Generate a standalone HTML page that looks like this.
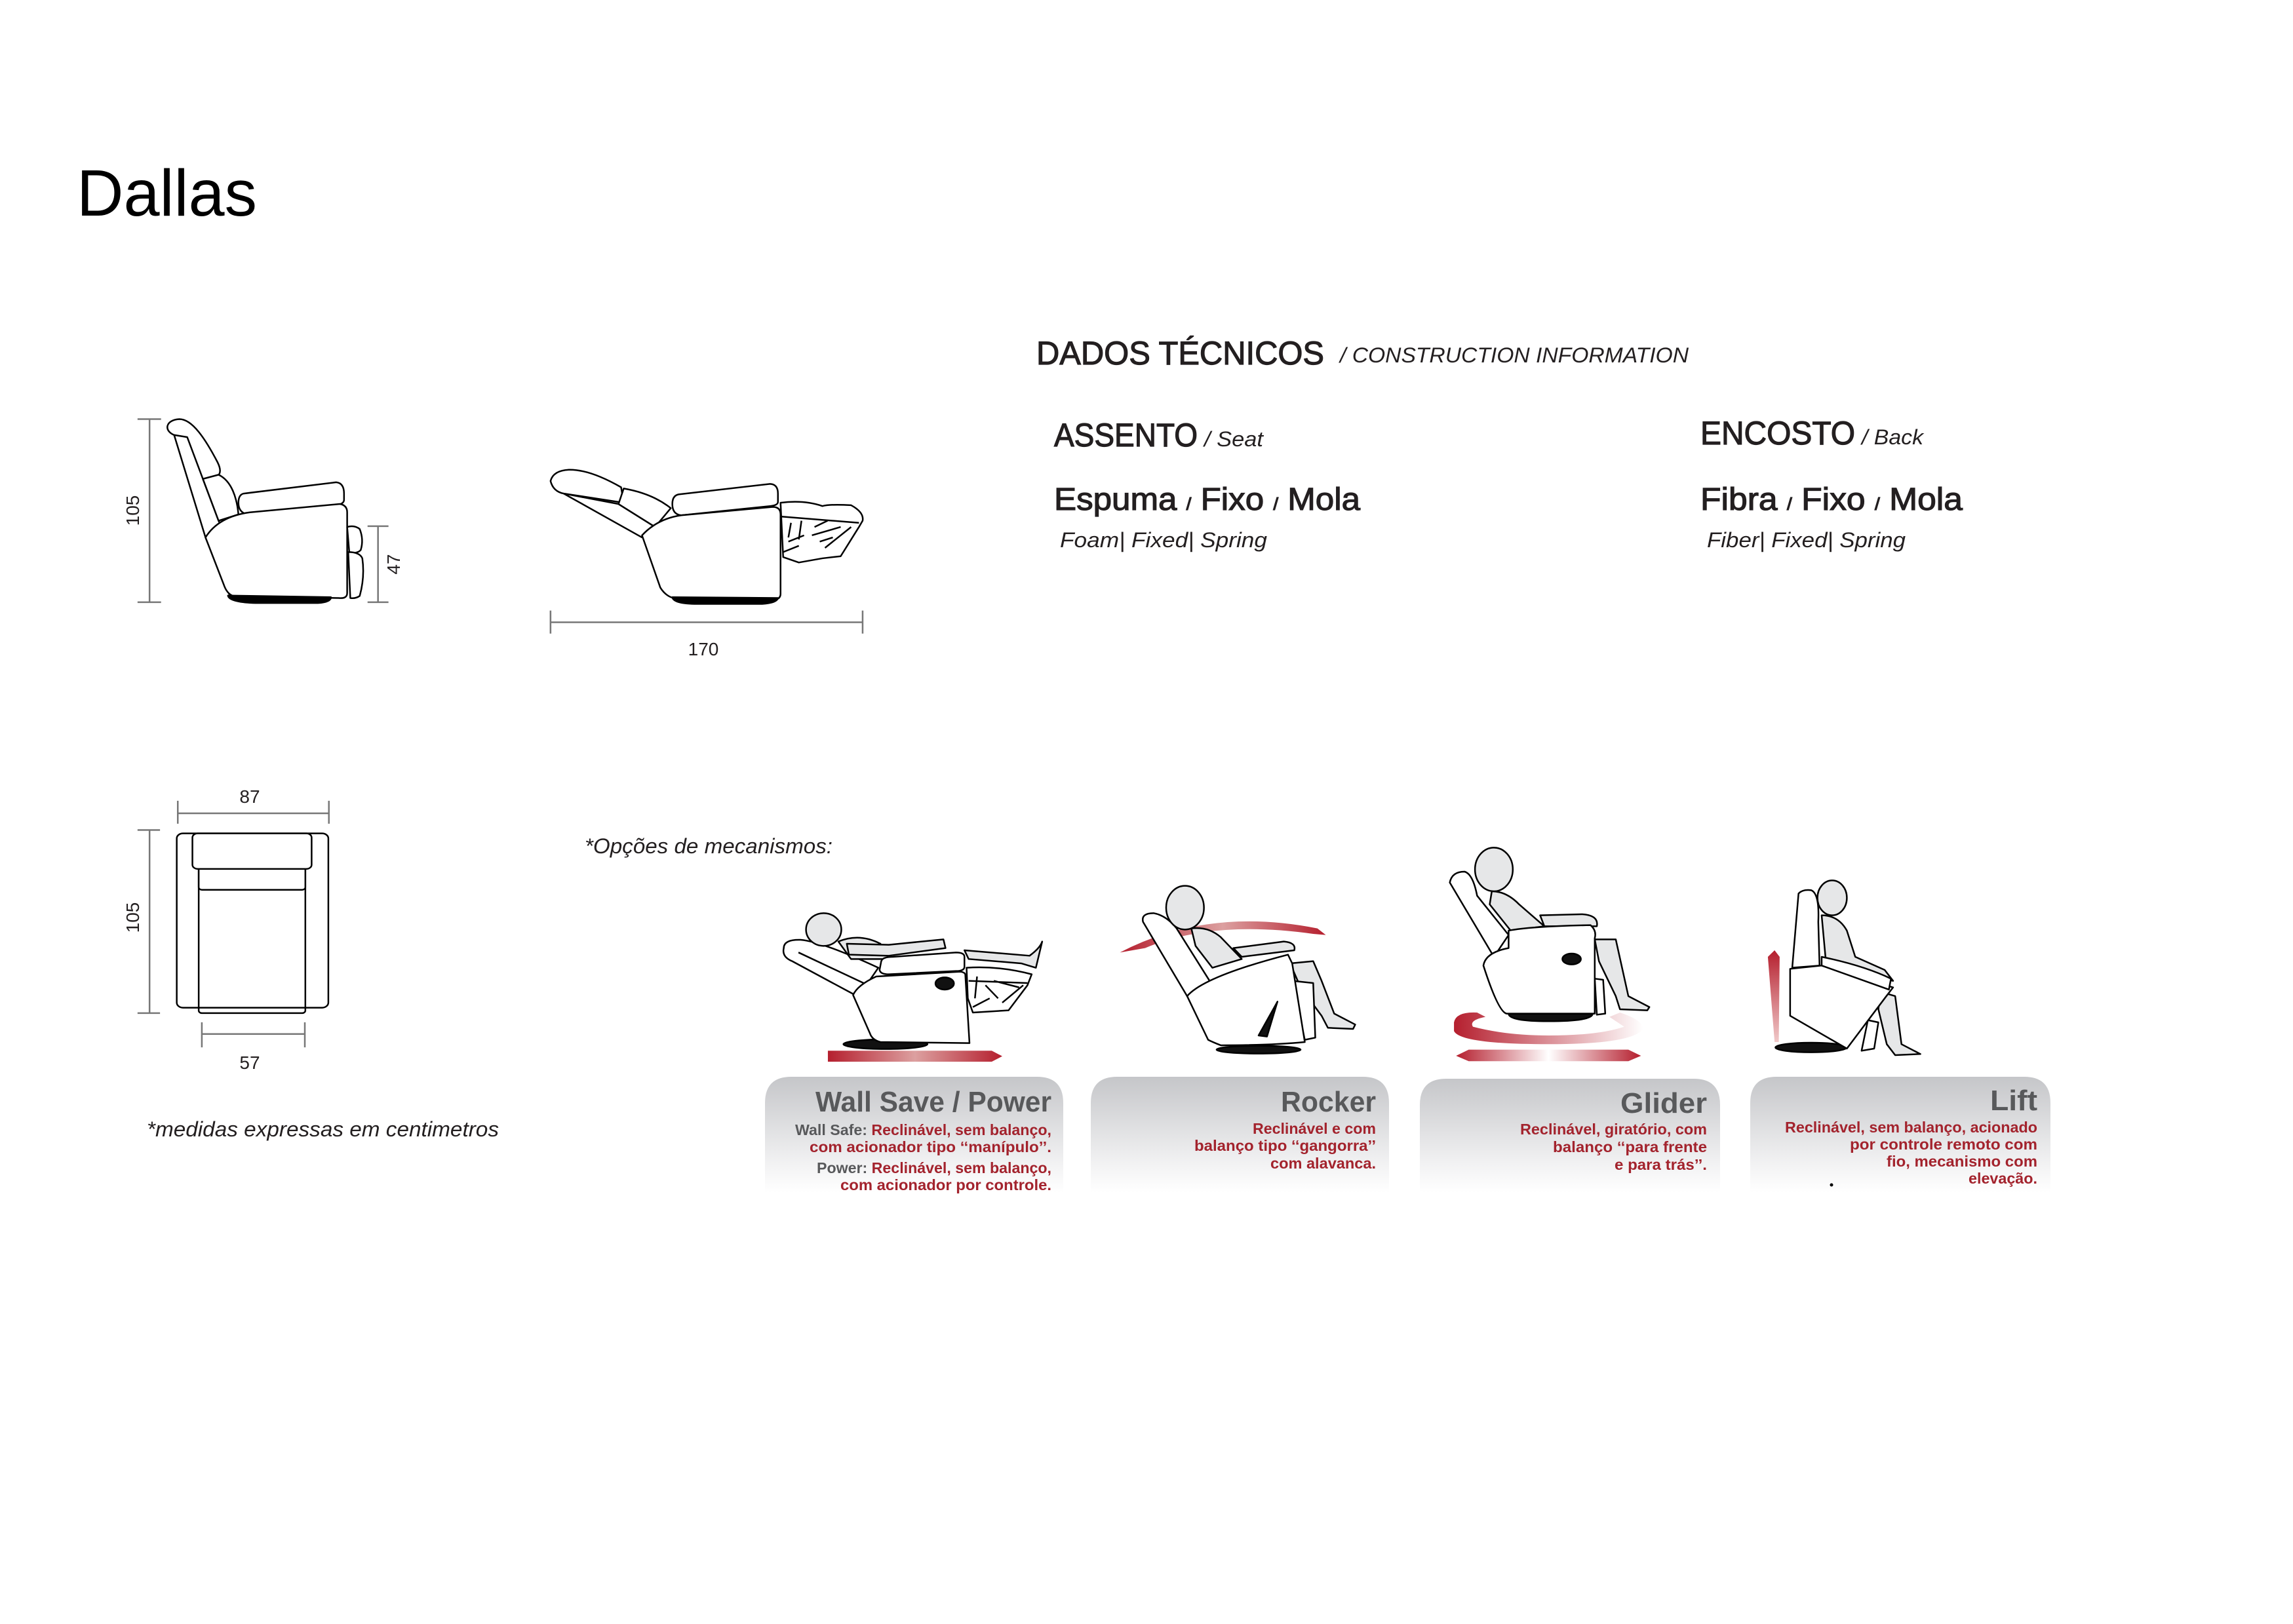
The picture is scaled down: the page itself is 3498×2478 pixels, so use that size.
<!DOCTYPE html>
<html><head><meta charset="utf-8"><style>
html,body{margin:0;padding:0;background:#fff}
svg{display:block}
text{font-family:"Liberation Sans",sans-serif}
</style></head><body>
<svg width="3498" height="2478" viewBox="0 0 3498 2478" xmlns="http://www.w3.org/2000/svg">
<defs>
<linearGradient id="box" x1="0" y1="0" x2="0" y2="1"><stop offset="0" stop-color="#c5c6c9"/><stop offset="0.75" stop-color="#f2f2f3"/><stop offset="1" stop-color="#ffffff"/></linearGradient>
<linearGradient id="rh" x1="0" y1="0" x2="1" y2="0"><stop offset="0" stop-color="#b51f2e"/><stop offset="0.5" stop-color="#dca0a0"/><stop offset="1" stop-color="#b51f2e"/></linearGradient>
<linearGradient id="rw" x1="0" y1="0" x2="1" y2="0"><stop offset="0" stop-color="#b51f2e"/><stop offset="0.5" stop-color="#ffffff"/><stop offset="1" stop-color="#b51f2e"/></linearGradient>
<linearGradient id="rf" x1="0" y1="0" x2="1" y2="0"><stop offset="0" stop-color="#b51f2e"/><stop offset="1" stop-color="#ffffff"/></linearGradient>
<linearGradient id="rv" x1="0" y1="0" x2="0" y2="1"><stop offset="0" stop-color="#b51f2e"/><stop offset="1" stop-color="#f0c8c8"/></linearGradient>
</defs>

<text x="117" y="329" font-size="100" textLength="275" lengthAdjust="spacingAndGlyphs">Dallas</text>

<!-- Technical data -->
<g fill="#231f20" stroke="#231f20">
<text x="1581" y="556" font-size="50" stroke-width="1.2" textLength="439" lengthAdjust="spacingAndGlyphs">DADOS TÉCNICOS</text>
<text x="2044" y="553" font-size="32" stroke-width="0" font-style="italic" textLength="532" lengthAdjust="spacingAndGlyphs">/ CONSTRUCTION INFORMATION</text>
<text x="1608" y="681" font-size="50" stroke-width="1.2" textLength="219" lengthAdjust="spacingAndGlyphs">ASSENTO</text>
<text x="1837" y="681" font-size="32" stroke-width="0" font-style="italic" textLength="90" lengthAdjust="spacingAndGlyphs">/ Seat</text>
<text x="2594" y="678" font-size="50" stroke-width="1.2" textLength="236" lengthAdjust="spacingAndGlyphs">ENCOSTO</text>
<text x="2840" y="678" font-size="32" stroke-width="0" font-style="italic" textLength="94" lengthAdjust="spacingAndGlyphs">/ Back</text>
<text x="1608" y="778" font-size="48" stroke-width="1.2" textLength="467" lengthAdjust="spacingAndGlyphs">Espuma <tspan font-size="26">/</tspan> Fixo <tspan font-size="26">/</tspan> Mola</text>
<text x="2594" y="778" font-size="48" stroke-width="1.2" textLength="400" lengthAdjust="spacingAndGlyphs">Fibra <tspan font-size="26">/</tspan> Fixo <tspan font-size="26">/</tspan> Mola</text>
<text x="1617" y="835" font-size="32" stroke-width="0" font-style="italic" textLength="316" lengthAdjust="spacingAndGlyphs">Foam| Fixed| Spring</text>
<text x="2604" y="835" font-size="32" stroke-width="0" font-style="italic" textLength="303" lengthAdjust="spacingAndGlyphs">Fiber| Fixed| Spring</text>
</g>

<!-- Left drawings in zoom coords -->
<g transform="translate(150 600) scale(0.7975 0.6378)" fill="#fff" stroke="#000" stroke-width="2.5" stroke-linejoin="round">
 <path d="M98 62 V500 M75 62 H120 M75 500 H120" stroke="#777" vector-effect="non-scaling-stroke" fill="none"/>
 <path d="M535 318 V500 M515 318 H555 M515 500 H555" stroke="#777" vector-effect="non-scaling-stroke" fill="none"/>
 <path d="M145 100 C125 90 128 64 155 62 C180 62 205 110 228 165 C238 190 232 200 215 205 L200 205 Z" vector-effect="non-scaling-stroke"/>
 <path d="M145 100 L205 345 L250 480 L300 490 L230 305 L170 105 Z" vector-effect="non-scaling-stroke"/>
 <path d="M200 205 L230 195 C255 210 265 250 268 290 L230 305 Z" vector-effect="non-scaling-stroke"/>
 <path d="M278 240 L455 213 Q470 215 470 240 L470 255 Q470 265 455 268 L285 290 Q268 285 268 262 Q268 243 278 240 Z" vector-effect="non-scaling-stroke"/>
 <path d="M205 345 Q230 295 290 285 L462 265 Q476 268 476 285 L476 478 Q476 492 460 490 L258 485 Q246 480 240 458 Z" vector-effect="non-scaling-stroke"/>
 <path d="M248 484 Q250 500 300 502 L420 502 Q445 500 445 488 Z" fill="#000" vector-effect="non-scaling-stroke"/>
 <path d="M476 320 Q490 315 500 325 Q508 350 502 375 Q495 385 480 380 Z" vector-effect="non-scaling-stroke"/>
 <path d="M478 380 Q500 380 505 395 Q510 440 500 485 Q492 492 482 490 Z" vector-effect="non-scaling-stroke"/>
 <path d="M865 210 Q870 185 900 183 Q940 182 1000 225 L1005 262 L890 240 Q870 235 865 210 Z" vector-effect="non-scaling-stroke"/>
 <path d="M890 240 L1040 345 L1065 320 L995 265 Z" vector-effect="non-scaling-stroke"/>
 <path d="M1005 228 Q1060 240 1095 275 L1065 320 L995 265 Z" vector-effect="non-scaling-stroke"/>
 <path d="M1110 242 L1285 217 Q1300 218 1300 240 L1300 260 Q1300 268 1285 270 L1115 292 Q1098 290 1098 265 Q1098 245 1110 242 Z" vector-effect="non-scaling-stroke"/>
 <path d="M1040 340 Q1070 300 1115 292 L1290 272 Q1305 272 1305 290 L1305 480 Q1305 494 1290 494 L1100 490 Q1085 485 1075 465 Z" vector-effect="non-scaling-stroke"/>
 <path d="M1098 488 Q1100 503 1140 504 L1270 504 Q1298 502 1300 490 Z" fill="#000" vector-effect="non-scaling-stroke"/>
 <path d="M1305 262 Q1350 255 1385 270 Q1400 265 1440 268 Q1465 285 1462 305 L1455 320 L1420 390 L1385 395 L1340 405 L1310 392 Z" vector-effect="non-scaling-stroke"/>
 <path d="M1305 295 L1455 310 M1325 310 L1320 345 M1345 305 L1340 350 M1370 320 L1395 305 M1365 340 L1420 320 M1390 370 L1440 320 M1310 380 L1340 365 M1320 355 L1350 340 M1380 355 L1405 345" fill="none" vector-effect="non-scaling-stroke"/>
 <path d="M865 548 H1462 M865 520 V575 M1462 520 V575" stroke="#777" fill="none" vector-effect="non-scaling-stroke"/>
 <path d="M152 1005 H441 M152 975 V1030 M441 975 V1030" stroke="#777" fill="none" vector-effect="non-scaling-stroke"/>
 <path d="M98 1045 V1483 M75 1045 H118 M75 1483 H118" stroke="#777" fill="none" vector-effect="non-scaling-stroke"/>
 <path d="M198 1533 H395 M198 1505 V1565 M395 1505 V1565" stroke="#777" fill="none" vector-effect="non-scaling-stroke"/>
 <rect x="192" y="1460" width="204" height="23" rx="6" vector-effect="non-scaling-stroke"/>
 <rect x="150" y="1053" width="290" height="417" rx="12" vector-effect="non-scaling-stroke"/>
 <path d="M192 1060 V1470 M396 1060 V1470" fill="none" vector-effect="non-scaling-stroke"/>
 <rect x="192" y="1130" width="204" height="58" rx="6" vector-effect="non-scaling-stroke"/>
 <rect x="180" y="1053" width="228" height="85" rx="10" vector-effect="non-scaling-stroke"/>
</g>
<g font-size="28" fill="#231f20">
 <text transform="translate(212 779) rotate(-90)" text-anchor="middle">105</text>
 <text transform="translate(610 861) rotate(-90)" text-anchor="middle">47</text>
 <text x="1073" y="1000" text-anchor="middle">170</text>
 <text x="381" y="1225" text-anchor="middle">87</text>
 <text transform="translate(212 1400) rotate(-90)" text-anchor="middle">105</text>
 <text x="381" y="1631" text-anchor="middle">57</text>
</g>
<text x="892" y="1302" font-size="32" font-style="italic" textLength="378" lengthAdjust="spacingAndGlyphs" fill="#231f20">*Opções de mecanismos:</text>
<text x="224" y="1734" font-size="32" font-style="italic" textLength="537" lengthAdjust="spacingAndGlyphs" fill="#231f20">*medidas expressas em centimetros</text>

<!-- Mechanism illustrations 1 & 2 -->
<g transform="translate(1170 1290) scale(0.641 0.3333)" stroke="#000" stroke-width="2.5" stroke-linejoin="round">
 <polygon points="145,940 535,940 560,965 535,990 145,990" fill="url(#rh)" stroke="none"/>
 <ellipse cx="282" cy="910" rx="100" ry="22" fill="#111" vector-effect="non-scaling-stroke"/>
 <path d="M470 480 L625 505 Q650 470 655 440 L640 560 L605 540 L480 520 Z" fill="#e6e7e8" vector-effect="non-scaling-stroke"/>
 <path d="M475 560 Q550 550 630 590 L620 640 L575 755 L490 765 L478 700 Z" fill="#fff" vector-effect="non-scaling-stroke"/>
 <path d="M480 620 L620 630 M500 600 L495 700 M520 640 L550 700 M540 620 L600 650 M560 720 L610 640 M490 740 L530 700" fill="none" vector-effect="non-scaling-stroke"/>
 <path d="M40 470 Q40 430 80 432 Q130 440 265 560 L240 630 L205 680 L60 530 Q35 510 40 470 Z" fill="#fff" vector-effect="non-scaling-stroke"/>
 <path d="M75 490 L232 632" fill="none" vector-effect="non-scaling-stroke"/>
 <ellipse cx="135" cy="385" rx="42" ry="75" fill="#e6e7e8" vector-effect="non-scaling-stroke"/>
 <path d="M170 440 Q220 400 270 450 L300 520 L200 520 Z" fill="#e6e7e8" vector-effect="non-scaling-stroke"/>
 <path d="M190 450 L290 455 L420 430 L425 470 L290 505 L195 500 Z" fill="#e6e7e8" vector-effect="non-scaling-stroke"/>
 <path d="M205 685 Q215 640 260 600 L460 578 Q470 580 472 590 L482 905 L270 900 Q250 890 245 860 Z" fill="#fff" vector-effect="non-scaling-stroke"/>
 <path d="M272 530 Q275 510 300 510 L450 490 Q470 490 470 510 L470 555 Q470 575 450 575 L290 590 Q270 590 268 570 Z" fill="#fff" vector-effect="non-scaling-stroke"/>
 <ellipse cx="423" cy="632" rx="22" ry="28" fill="#111" vector-effect="non-scaling-stroke"/>
 <path d="M840 490 Q1050 280 1310 380 L1330 410 L1300 405 Q1060 340 900 470 Z" fill="url(#rh)" stroke="none"/>
 <ellipse cx="1170" cy="935" rx="100" ry="18" fill="#111" vector-effect="non-scaling-stroke"/>
 <path d="M1245 540 L1300 530 L1320 620 L1350 770 L1400 820 L1395 840 L1335 835 L1320 780 L1270 650 Z" fill="#e6e7e8" vector-effect="non-scaling-stroke"/>
 <path d="M1250 620 L1300 630 L1305 880 L1280 890 Z" fill="#fff" vector-effect="non-scaling-stroke"/>
 <path d="M895 350 Q890 310 920 310 Q950 320 975 380 L1060 640 L1000 690 Z" fill="#fff" vector-effect="non-scaling-stroke"/>
 <ellipse cx="995" cy="285" rx="45" ry="100" fill="#e6e7e8" vector-effect="non-scaling-stroke"/>
 <path d="M1010 380 Q1050 370 1080 420 L1130 520 L1060 560 L1020 460 Z" fill="#e6e7e8" vector-effect="non-scaling-stroke"/>
 <path d="M1110 470 L1230 440 Q1260 445 1255 480 L1130 510 Z" fill="#e6e7e8" vector-effect="non-scaling-stroke"/>
 <path d="M1000 690 Q1040 600 1240 500 L1250 540 L1280 900 Q1200 915 1080 915 Q1060 900 1050 890 Z" fill="#fff" vector-effect="non-scaling-stroke"/>
 <path d="M1215 715 L1190 875 L1170 870 Z" fill="#111" vector-effect="non-scaling-stroke"/>
</g>

<!-- Mechanism illustrations 3 & 4 -->
<g transform="translate(2170 1280) scale(0.641 0.3333)" stroke="#000" stroke-width="2.5" stroke-linejoin="round">
 <path d="M75 840 Q80 790 130 795 L150 815 Q110 830 120 860 Q200 900 300 900 Q420 900 480 860 L445 815 L470 795 Q525 830 525 870 Q500 940 300 940 Q90 940 75 880 Z" fill="url(#rf)" stroke="none"/>
 <polygon points="80,993 110,965 490,965 520,993 490,1018 110,1018" fill="url(#rw)" stroke="none"/>
 <path d="M205 800 L405 800 Q405 835 300 835 Q205 835 205 800 Z" fill="#111" vector-effect="non-scaling-stroke"/>
 <path d="M410 460 L460 460 L490 720 L540 770 L535 785 L470 780 L460 720 L420 560 Z" fill="#e6e7e8" vector-effect="non-scaling-stroke"/>
 <path d="M410 640 L430 645 L435 800 L415 805 Z" fill="#fff" vector-effect="non-scaling-stroke"/>
 <path d="M65 200 Q70 150 100 150 Q120 160 130 260 L205 440 L170 540 Z" fill="#fff" vector-effect="non-scaling-stroke"/>
 <ellipse cx="170" cy="140" rx="45" ry="100" fill="#e6e7e8" vector-effect="non-scaling-stroke"/>
 <path d="M165 240 Q200 240 230 300 L290 400 L210 420 L160 300 Z" fill="#e6e7e8" vector-effect="non-scaling-stroke"/>
 <path d="M280 350 L380 345 Q420 350 415 400 L290 400 Z" fill="#e6e7e8" vector-effect="non-scaling-stroke"/>
 <path d="M205 420 Q260 400 400 395 Q415 420 410 455 L410 800 L200 800 Q180 790 145 580 Q150 520 205 500 Z" fill="#fff" vector-effect="non-scaling-stroke"/>
 <ellipse cx="355" cy="550" rx="22" ry="25" fill="#111" vector-effect="non-scaling-stroke"/>
 <path d="M822 540 L838 510 L850 540 L848 930 L838 930 Z" fill="url(#rv)" stroke="none"/>
 <ellipse cx="925" cy="955" rx="85" ry="22" fill="#111" vector-effect="non-scaling-stroke"/>
 <path d="M1090 700 L1125 720 L1140 940 L1185 985 L1125 990 L1105 940 L1085 780 Z" fill="#e6e7e8" vector-effect="non-scaling-stroke"/>
 <path d="M1060 830 L1085 840 L1075 960 L1045 970 Z" fill="#fff" vector-effect="non-scaling-stroke"/>
 <path d="M895 250 Q905 230 925 235 Q945 250 942 380 L945 580 L880 590 Z" fill="#fff" vector-effect="non-scaling-stroke"/>
 <ellipse cx="975" cy="270" rx="35" ry="80" fill="#e6e7e8" vector-effect="non-scaling-stroke"/>
 <path d="M950 350 Q990 350 1010 420 L1030 540 L1100 600 L1120 650 L1040 620 L960 560 Z" fill="#e6e7e8" vector-effect="non-scaling-stroke"/>
 <path d="M875 595 L950 580 L1120 680 L1100 730 L1010 960 L875 810 Z" fill="#fff" vector-effect="non-scaling-stroke"/>
 <path d="M950 540 Q1050 580 1115 640 L1110 690 L950 580 Z" fill="#fff" vector-effect="non-scaling-stroke"/>
</g>

<!-- Boxes -->
<g fill="url(#box)">
 <path d="M1167 1820 L1167 1683 Q1167 1643 1207 1643 L1582 1643 Q1622 1643 1622 1683 L1622 1820 Z"/>
 <path d="M1664 1820 L1664 1683 Q1664 1643 1704 1643 L2079 1643 Q2119 1643 2119 1683 L2119 1820 Z"/>
 <path d="M2166 1820 L2166 1686 Q2166 1646 2206 1646 L2584 1646 Q2624 1646 2624 1686 L2624 1820 Z"/>
 <path d="M2670 1820 L2670 1683 Q2670 1643 2710 1643 L3088 1643 Q3128 1643 3128 1683 L3128 1820 Z"/>
</g>
<g font-weight="bold" fill="#58595b" font-size="44" text-anchor="end">
 <text x="1604" y="1696" textLength="360" lengthAdjust="spacingAndGlyphs">Wall Save / Power</text>
 <text x="2099" y="1696" textLength="145" lengthAdjust="spacingAndGlyphs">Rocker</text>
 <text x="2604" y="1698" textLength="132" lengthAdjust="spacingAndGlyphs">Glider</text>
 <text x="3108" y="1694" textLength="72" lengthAdjust="spacingAndGlyphs">Lift</text>
</g>
<g font-size="23" fill="#a3232d" text-anchor="end" font-weight="bold">
 <text x="1604" y="1732" textLength="391" lengthAdjust="spacingAndGlyphs"><tspan fill="#58595b">Wall Safe: </tspan>Reclinável, sem balanço,</text>
 <text x="1604" y="1758" textLength="369" lengthAdjust="spacingAndGlyphs">com acionador tipo ‘‘manípulo’’.</text>
 <text x="1604" y="1790" textLength="358" lengthAdjust="spacingAndGlyphs"><tspan fill="#58595b">Power: </tspan>Reclinável, sem balanço,</text>
 <text x="1604" y="1816" textLength="322" lengthAdjust="spacingAndGlyphs">com acionador por controle.</text>
 <text x="2099" y="1730" textLength="188" lengthAdjust="spacingAndGlyphs">Reclinável e com</text>
 <text x="2099" y="1756" textLength="277" lengthAdjust="spacingAndGlyphs">balanço tipo ‘‘gangorra’’</text>
 <text x="2099" y="1783" textLength="161" lengthAdjust="spacingAndGlyphs">com alavanca.</text>
 <text x="2604" y="1731" textLength="285" lengthAdjust="spacingAndGlyphs">Reclinável, giratório, com</text>
 <text x="2604" y="1758" textLength="235" lengthAdjust="spacingAndGlyphs">balanço ‘‘para frente</text>
 <text x="2604" y="1785" textLength="141" lengthAdjust="spacingAndGlyphs">e para trás’’.</text>
 <text x="3108" y="1728" textLength="385" lengthAdjust="spacingAndGlyphs">Reclinável, sem balanço, acionado</text>
 <text x="3108" y="1754" textLength="286" lengthAdjust="spacingAndGlyphs">por controle remoto com</text>
 <text x="3108" y="1780" textLength="230" lengthAdjust="spacingAndGlyphs">fio, mecanismo com</text>
 <text x="3108" y="1806" textLength="105" lengthAdjust="spacingAndGlyphs">elevação.</text>
</g>
<circle cx="2794" cy="1808" r="2.5" fill="#000"/>
</svg>
</body></html>
